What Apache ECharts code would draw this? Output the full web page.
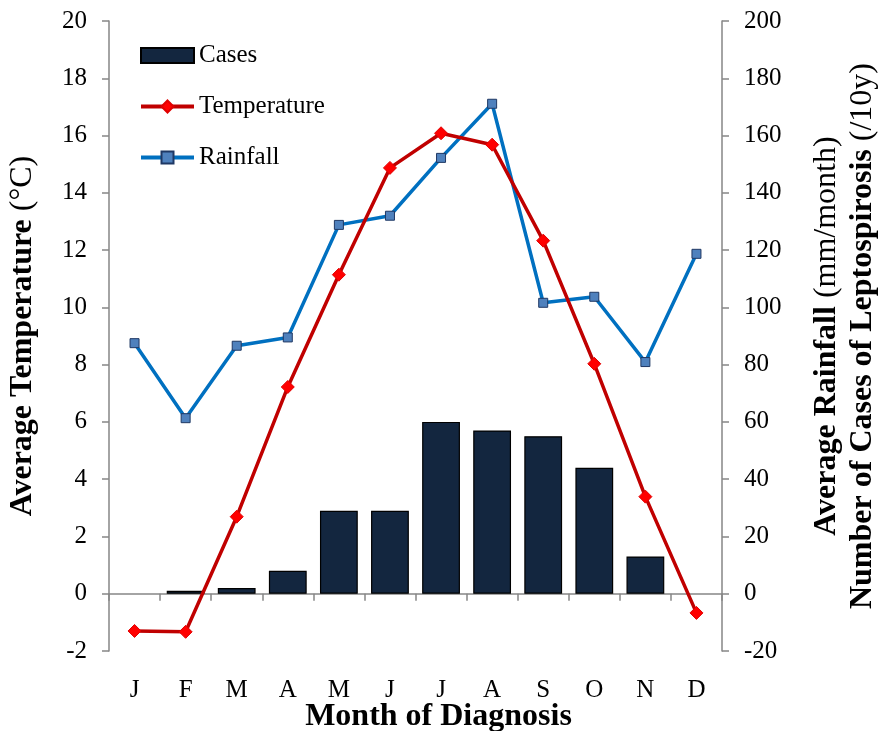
<!DOCTYPE html>
<html>
<head>
<meta charset="utf-8">
<script src="https://cdn.jsdelivr.net/npm/echarts@6/dist/echarts.min.js"></script>
<style>html,body{margin:0;padding:0;background:#fff;}#c{width:878px;height:731px;}</style>
</head>
<body>
<div id="c"></div>
<script>
const months = ['J','F','M','A','M','J','J','A','S','O','N','D'];
const cases = [0, 1, 2, 8, 29, 29, 60, 57, 55, 44, 13, 0];
const temperature = [-1.3, -1.33, 2.69, 7.22, 11.14, 14.87, 16.08, 15.68, 12.33, 8.03, 3.39, -0.67];
const rainfall = [87.5, 61.3, 86.6, 89.5, 128.8, 132, 152.2, 171.1, 101.6, 103.7, 80.9, 118.7];
const leftTicks = {min: -2, max: 20, interval: 2};
const rightTicks = {min: -20, max: 200, interval: 20};

const FONT = '"Liberation Serif", "Times New Roman", serif';
const AX = '#868686';
const chart = echarts.init(document.getElementById('c'));
chart.setOption({
  animation: false,
  textStyle: {fontFamily: FONT},
  grid: {left: 109, right: 156, top: 21, bottom: 80, outerBoundsMode: 'none', containLabel: false},
  legend: {
    orient: 'vertical', left: 134, top: 38, itemGap: 26,
    itemWidth: 53, itemHeight: 15,
    textStyle: {fontFamily: FONT, fontSize: 25, color: '#000'},
    lineStyle: {width: 4},
    data: [{name: 'Cases', icon: 'rect'}, {name: 'Temperature'}, {name: 'Rainfall'}]
  },
  xAxis: {
    type: 'category', data: months, boundaryGap: true,
    axisLine: {onZero: true, lineStyle: {color: AX, width: 1.5}},
    axisTick: {show: true, length: 7, lineStyle: {color: AX, width: 1.5}},
    axisLabel: {margin: 27, fontFamily: FONT, fontSize: 25, color: '#000'},
    name: 'Month of Diagnosis', nameLocation: 'middle', nameGap: 50, nameMoveOverlap: false,
    nameTextStyle: {fontFamily: FONT, fontSize: 32, fontWeight: 'bold', color: '#000', padding: [0, 0, 0, 46]},
    splitLine: {show: false}
  },
  yAxis: [
    {
      type: 'value', position: 'left', min: leftTicks.min, max: leftTicks.max, interval: leftTicks.interval,
      axisLine: {show: true, onZero: false, lineStyle: {color: AX, width: 1.5}},
      axisTick: {show: true, length: 7, lineStyle: {color: AX, width: 1.5}},
      axisLabel: {margin: 22, fontFamily: FONT, fontSize: 25, color: '#000'},
      splitLine: {show: false},
      name: '{b|Average Temperature }{n|(°C)}', nameLocation: 'middle', nameRotate: 90, nameGap: 70,
      nameTextStyle: {rich: {
        b: {fontFamily: FONT, fontSize: 32, fontWeight: 'bold', color: '#000'},
        n: {fontFamily: FONT, fontSize: 32, color: '#000'}
      }}
    },
    {
      type: 'value', position: 'right', min: rightTicks.min, max: rightTicks.max, interval: rightTicks.interval,
      axisLine: {show: true, onZero: false, lineStyle: {color: AX, width: 1.5}},
      axisTick: {show: true, length: 7, lineStyle: {color: AX, width: 1.5}},
      axisLabel: {margin: 22, fontFamily: FONT, fontSize: 25, color: '#000'},
      splitLine: {show: false},
      name: '{b|Average Rainfall }{n|(mm/month)}\n{b|Number of Cases of Leptospirosis }{n|(/10y)}',
      nameLocation: 'middle', nameRotate: 90, nameGap: 87,
      nameTextStyle: {lineHeight: 36, rich: {
        b: {fontFamily: FONT, fontSize: 32, fontWeight: 'bold', color: '#000', lineHeight: 36},
        n: {fontFamily: FONT, fontSize: 32, color: '#000', lineHeight: 36}
      }}
    }
  ],
  series: [
    {
      name: 'Cases', type: 'bar', yAxisIndex: 1,
      data: cases.map(v => (v === 0 ? null : v)),
      barCategoryGap: '26%',
      itemStyle: {color: '#13263f', borderColor: '#000', borderWidth: 1.2}
    },
    {
      name: 'Temperature', type: 'line', yAxisIndex: 0, data: temperature,
      symbol: 'diamond', symbolSize: 13, z: 5,
      lineStyle: {color: '#c00000', width: 3.5},
      itemStyle: {color: '#ff0000', borderColor: '#e00000', borderWidth: 1}
    },
    {
      name: 'Rainfall', type: 'line', yAxisIndex: 1, data: rainfall,
      symbol: 'rect', symbolSize: 9, z: 4,
      lineStyle: {color: '#0070c0', width: 3.5},
      itemStyle: {color: '#4f81bd', borderColor: '#1f3864', borderWidth: 1}
    }
  ]
});
</script>
</body>
</html>
